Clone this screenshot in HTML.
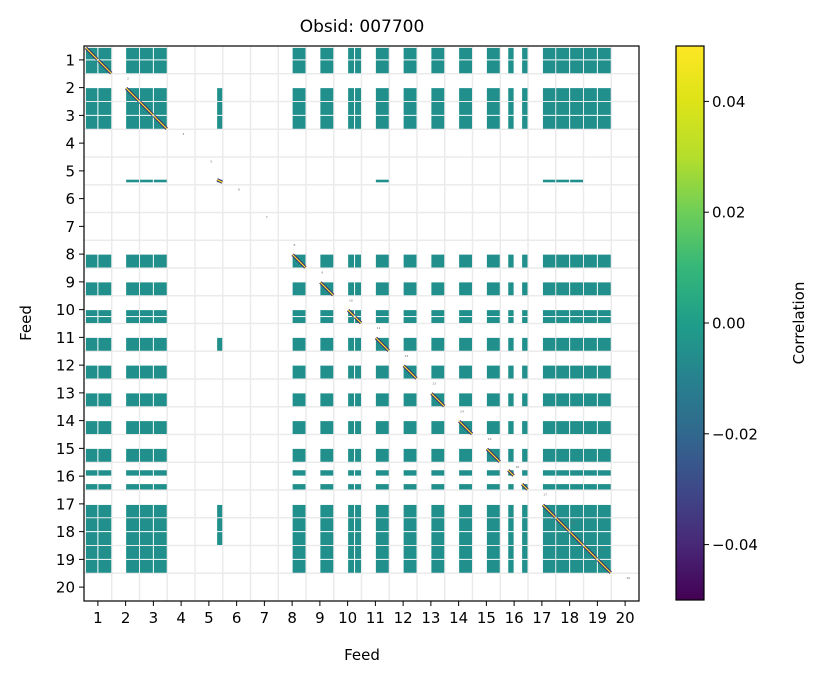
<!DOCTYPE html>
<html><head><meta charset="utf-8"><style>
html,body{margin:0;padding:0;background:#fff;}
svg{display:block;font-family:"DejaVu Sans","Liberation Sans",sans-serif;}
</style></head><body>
<svg id="chart" width="825" height="678" viewBox="0 0 825 678">
<defs>
<linearGradient id="viridis" x1="0" y1="1" x2="0" y2="0">
<stop offset="0" stop-color="#440154"/><stop offset="0.1" stop-color="#482878"/><stop offset="0.2" stop-color="#3e4989"/><stop offset="0.3" stop-color="#31688e"/><stop offset="0.4" stop-color="#26828e"/><stop offset="0.5" stop-color="#1f9e89"/><stop offset="0.6" stop-color="#35b779"/><stop offset="0.7" stop-color="#6ece58"/><stop offset="0.8" stop-color="#b5de2b"/><stop offset="0.9" stop-color="#dde318"/><stop offset="1" stop-color="#fde725"/>
</linearGradient>
</defs>
<text x="362" y="32" text-anchor="middle" font-size="17" fill="#000">Obsid: 007700</text>
<g id="grid"></g>
<g id="cells"></g>
<rect x="84" y="46" width="555" height="555" fill="none" stroke="#000" stroke-width="1.2"/>
<g id="axes"></g>
<text x="362" y="660" text-anchor="middle" font-size="15">Feed</text>
<text transform="translate(31,323) rotate(-90)" text-anchor="middle" font-size="15">Feed</text>
<rect x="676" y="46" width="28" height="554" fill="url(#viridis)" stroke="#000" stroke-width="1.2"/>
<g id="cbar"></g>
<text transform="translate(804,323) rotate(-90)" text-anchor="middle" font-size="15">Correlation</text>
</svg>
<script>
const feeds = [1,2,3,4,5,6,7,8,9,10,11,12,13,14,15,16,17,18,19,20];
const feedSegments = {
  1: [[0.05,0.5],[0.5,1]],
  2: [[0.5,1]],
  3: [[0,0.5],[0.5,1]],
  8: [[0.5,1]], 9: [[0.5,1]],
  10: [[0.5,0.75],[0.75,1]],
  11: [[0.5,1]], 12: [[0.5,1]], 13: [[0.5,1]], 14: [[0.5,1]], 15: [[0.5,1]],
  16: [[0.27,0.5],[0.77,1]],
  17: [[0.52,1]],
  18: [[0,0.5],[0.5,1]],
  19: [[0,0.5],[0.5,1]]
};
const partialFeed = 5;
const partialLinks = [2,3,11,17,18];
const partialColSeg = [0.78,1];
const partialRowSeg = [0.8,0.93];
const cbarTicks = [0.04,0.02,0,-0.02,-0.04];
const cbarLabels = ["0.04","0.02","0.00","\u22120.02","\u22120.04"];

const NS = "http://www.w3.org/2000/svg";
const X0 = 84, Y0 = 46, CELL = 27.75;
function xPos(f){ return X0 + (f - 0.5 - 0.5) * CELL; }   // left edge of feed f cell
function yPos(f){ return Y0 + (f - 1) * CELL; }
function cbY(v){ return 46 + (0.05 - v) / 0.1 * 554; }
function mk(tag, attrs, parent){ const e = document.createElementNS(NS, tag); for (const k in attrs) e.setAttribute(k, attrs[k]); parent.appendChild(e); return e; }

const grid = document.getElementById('grid');
feeds.forEach(f => {
  if (f < 20) {
    const gx = mk('line', {x1: X0 + f*CELL, x2: X0 + f*CELL, y1: Y0, y2: Y0+555, stroke: '#ebebeb', 'stroke-width': 1.5}, grid);
    
    
    const gy = mk('line', {x1: X0, x2: X0+555, y1: Y0 + f*CELL, y2: Y0 + f*CELL, stroke: '#ebebeb', 'stroke-width': 1.5}, grid);
    
    
  }
});

const cells = document.getElementById('cells');
const TEAL = '#21908c';
function block(cf, cs, rf, rs, isDiag){
  const x1 = xPos(cf) + cs[0]*CELL + 0.5, x2 = xPos(cf) + cs[1]*CELL - 0.5;
  const y1 = yPos(rf) + rs[0]*CELL + 0.5, y2 = yPos(rf) + rs[1]*CELL - 0.5;
  const r = mk('rect', {x: x1, y: y1, width: Math.max(0.5, x2-x1), height: Math.max(0.5, y2-y1), fill: TEAL}, cells);
  
  
  if (isDiag) {
    const d1 = mk('line', {x1: x1, y1: y1, x2: x2, y2: y2, stroke: '#3b2a73', 'stroke-width': 3.2}, cells);
    
    
    const d2 = mk('line', {x1: x1, y1: y1, x2: x2, y2: y2, stroke: '#fde725', 'stroke-width': 1.2}, cells);
    
    
  }
}
const active = feeds.filter(f => feedSegments[f]);
active.forEach(rf => {
  active.forEach(cf => {
    feedSegments[rf].forEach((rs, ri) => {
      feedSegments[cf].forEach((cs, ci) => {
        block(cf, cs, rf, rs, rf === cf && ri === ci);
      });
    });
  });
});
partialLinks.forEach(f => {
  feedSegments[f].forEach(s => {
    block(partialFeed, partialColSeg, f, s, false);
    block(f, s, partialFeed, partialRowSeg, false);
  });
});
block(partialFeed, partialColSeg, partialFeed, partialRowSeg, true);

feeds.forEach(f => {
  const t = mk('text', {x: xPos(f) + CELL*0.55, y: yPos(f) + CELL*0.2, 'font-size': 3, fill: '#666'}, cells);
  t.textContent = f;
  
  
});

const axes = document.getElementById('axes');
feeds.forEach(f => {
  const cx = xPos(f) + CELL/2, cy = yPos(f) + CELL/2;
  const tx = mk('line', {x1: cx, x2: cx, y1: 601, y2: 606, stroke: '#000', 'stroke-width': 1}, axes);
  
  
  const lx = mk('text', {x: cx, y: 623, 'text-anchor': 'middle', 'font-size': 15}, axes);
  lx.textContent = f;
  
  
  const ty = mk('line', {x1: 79, x2: 84, y1: cy, y2: cy, stroke: '#000', 'stroke-width': 1}, axes);
  
  
  const ly = mk('text', {x: 75, y: cy + 5.5, 'text-anchor': 'end', 'font-size': 15}, axes);
  ly.textContent = f;
  
  
});

const cbar = document.getElementById('cbar');
cbarTicks.forEach((v, i) => {
  const y = cbY(v);
  const t = mk('line', {x1: 704, x2: 709, y1: y, y2: y, stroke: '#000', 'stroke-width': 1}, cbar);
  
  
  const l = mk('text', {x: 712, y: y + 5.5, 'font-size': 15}, cbar);
  l.textContent = cbarLabels[i];
  
  
});
</script>
</body></html>
